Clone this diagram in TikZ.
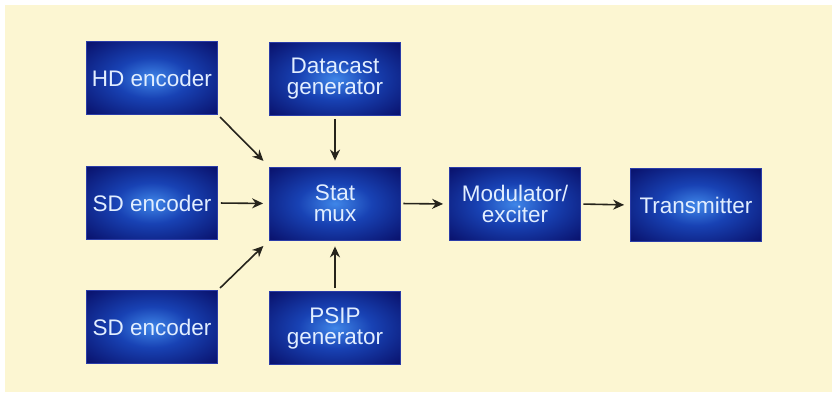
\documentclass[tikz,border=0pt]{standalone}
\usepackage{fontspec}
\setmainfont{Liberation Sans}
\usetikzlibrary{arrows.meta}
\definecolor{bgcream}{HTML}{FCF6D2}
\definecolor{boxdark}{HTML}{0A1470}
\definecolor{boxmid}{HTML}{1842B4}
\definecolor{boxglow}{HTML}{3F86E8}
\definecolor{boxedge}{HTML}{2A3CA8}
\definecolor{boxtext}{HTML}{E2EEFF}
\definecolor{arrowc}{HTML}{26241C}
\pgfdeclareradialshading{glowshade}{\pgfpoint{0bp}{0bp}}{%
  color(0bp)=(boxglow); color(14bp)=(boxmid); color(34bp)=(boxdark); color(50bp)=(boxdark)}
\tikzset{
  blockbox/.style={rectangle, shading=glowshade, draw=boxedge, line width=0.8pt,
    minimum width=131pt, minimum height=73pt, inner sep=2pt, align=center,
    text=boxtext, font=\fontsize{22.5}{21}\selectfont},
  flow/.style={draw=arrowc, line width=1.6pt, -{Stealth[length=11pt,width=10pt]}}
}
\begin{document}
\begin{tikzpicture}[x=1pt,y=-1pt]
\useasboundingbox (0,0) rectangle (832,392);
\fill[white] (0,0) rectangle (832,392);
\fill[bgcream] (5,5) rectangle (832,392);
\node[blockbox] (hd) at (152,78) {HD encoder};
\node[blockbox] (data) at (335,79) {Datacast\\generator};
\node[blockbox] (sd1) at (152,203) {SD encoder};
\node[blockbox] (stat) at (335,203.5) {Stat\\mux};
\node[blockbox] (sd2) at (152,327) {SD encoder};
\node[blockbox] (psip) at (335,328) {PSIP\\generator};
\node[blockbox] (mod) at (515,204) {Modulator/\\exciter};
\node[blockbox] (tx) at (696,205) {Transmitter};
\draw[flow, shorten <=3pt, shorten >=8pt] (hd.south east) -- (stat.north west);
\draw[flow, shorten <=3pt, shorten >=6pt] (data.south) -- (stat.north);
\draw[flow, shorten <=3pt, shorten >=6pt] (sd1.east) -- (stat.west);
\draw[flow, shorten <=3pt, shorten >=8pt] (sd2.north east) -- (stat.south west);
\draw[flow, shorten <=3pt, shorten >=6pt] (psip.north) -- (stat.south);
\draw[flow, shorten <=2.5pt, shorten >=6pt] (stat.east) -- (mod.west);
\draw[flow, shorten <=2.5pt, shorten >=6pt] (mod.east) -- (tx.west);
\end{tikzpicture}
\end{document}
